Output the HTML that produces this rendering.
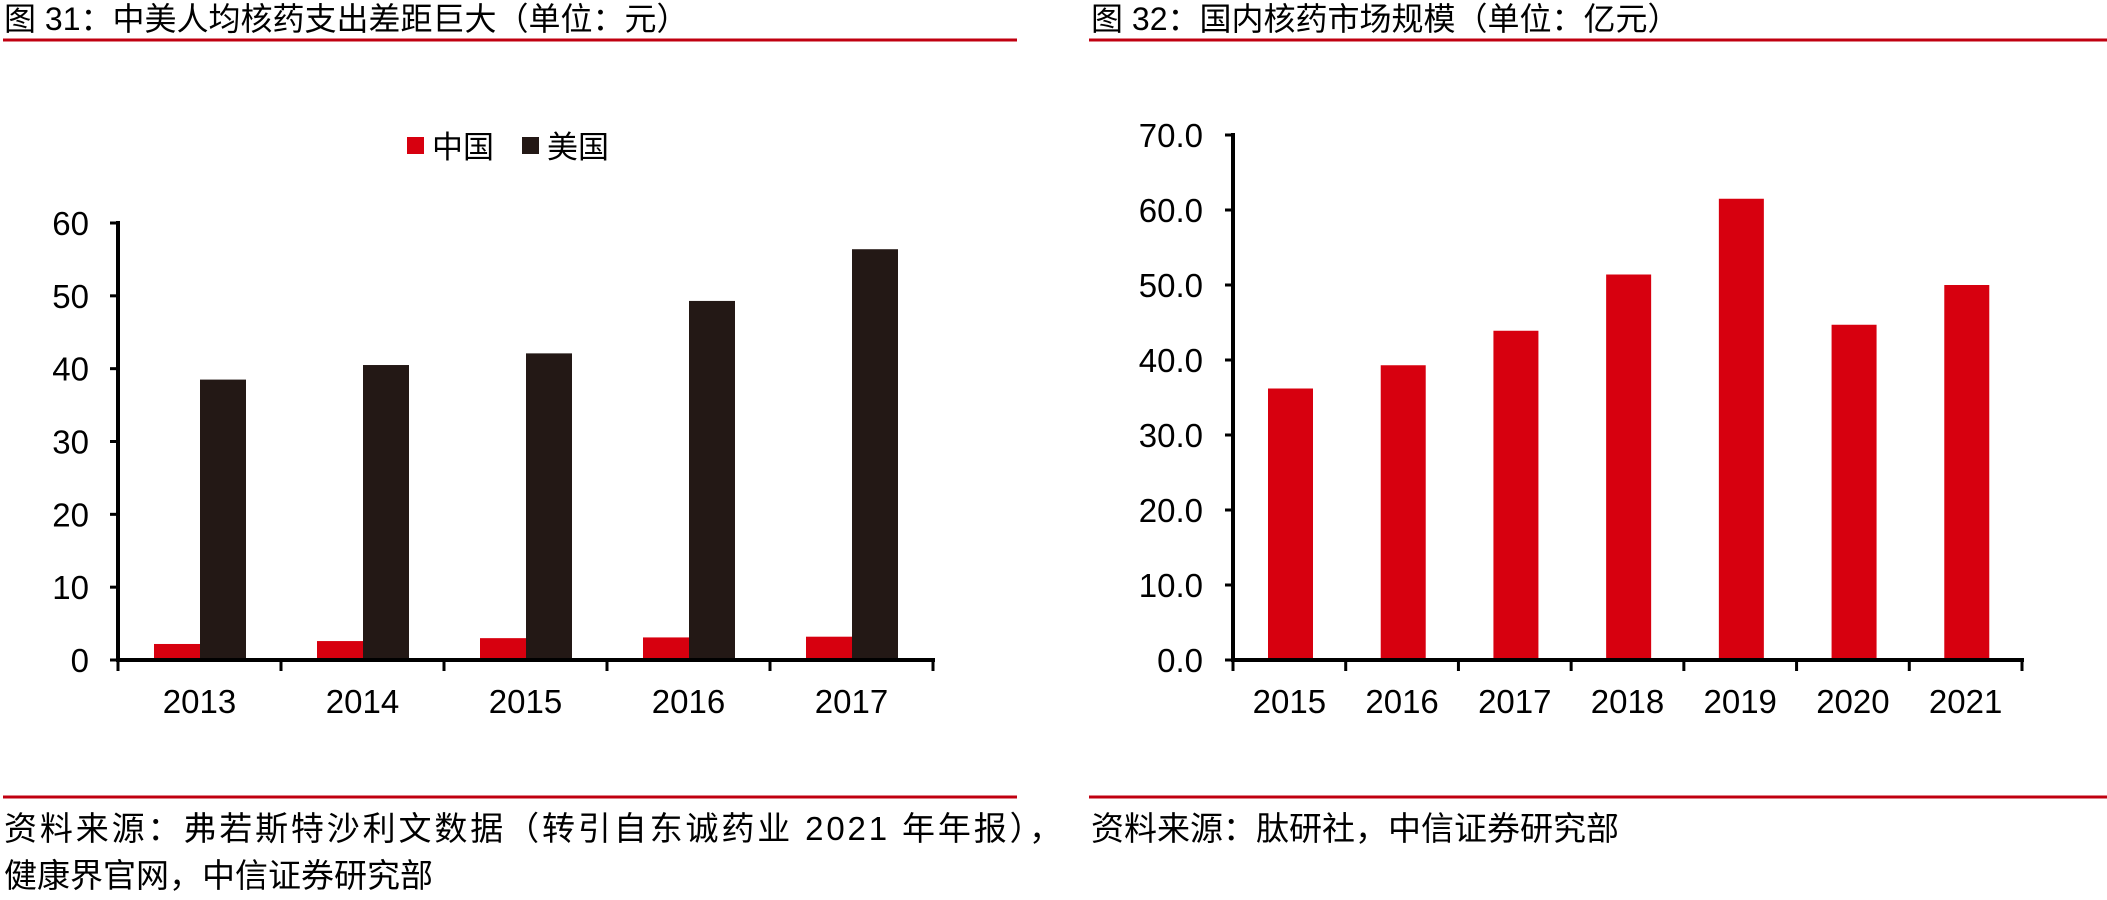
<!DOCTYPE html>
<html><head><meta charset="utf-8"><style>
body{margin:0;background:#fff;}
svg text{font-family:"Liberation Sans","Noto Sans CJK SC",sans-serif;}
</style></head><body>
<svg width="2107" height="895" viewBox="0 0 2107 895" xmlns="http://www.w3.org/2000/svg">
<g id="left"></g>
<g id="right"></g>
<text x="4" y="30" font-size="32" fill="#000">图 31：中美人均核药支出差距巨大（单位：元）</text>
<line x1="3" y1="40" x2="1017" y2="40" stroke="#c00010" stroke-width="3"/>
<text x="1091" y="30" font-size="32" fill="#000">图 32：国内核药市场规模（单位：亿元）</text>
<line x1="1089" y1="40" x2="2107" y2="40" stroke="#c00010" stroke-width="3"/>
<line x1="3" y1="797" x2="1017" y2="797" stroke="#c00010" stroke-width="3"/>
<line x1="1089" y1="797" x2="2107" y2="797" stroke="#c00010" stroke-width="3"/>
<text x="4" y="840" font-size="33" fill="#000" textLength="1058" lengthAdjust="spacing">资料来源：弗若斯特沙利文数据（转引自东诚药业 2021 年年报），</text>
<text x="4" y="887" font-size="33" fill="#000">健康界官网，中信证券研究部</text>
<text x="1091" y="840" font-size="33" fill="#000">资料来源：肽研社，中信证券研究部</text>
<rect x="407" y="137" width="17" height="17" fill="#d7000f"/>
<text x="432" y="158" font-size="31">中国</text>
<rect x="522" y="137" width="17" height="17" fill="#231815"/>
<text x="547" y="158" font-size="31">美国</text>
</svg>
<script>
const leftCats=["2013","2014","2015","2016","2017"];
const chinaVals=[2.2,2.6,3.0,3.1,3.2];
const usaVals=[38.5,40.5,42.1,49.3,56.4];
const leftTicks=[0,10,20,30,40,50,60];
const rightCats=["2015","2016","2017","2018","2019","2020","2021"];
const rightVals=[36.2,39.3,43.9,51.4,61.5,44.7,50.0];
const rightTicks=["0.0","10.0","20.0","30.0","40.0","50.0","60.0","70.0"];
const NS="http://www.w3.org/2000/svg";
function mk(p,t,a){const e=document.createElementNS(NS,t);for(const k in a)e.setAttribute(k,a[k]);p.appendChild(e);return e;}
function axes(g,x0,x1,y0,y1,max,ticks,cats,lx){
  const ys=v=>y0-(v/max)*(y0-y1);
  ticks.forEach(t=>{const y=ys(parseFloat(t));
    const l=mk(g,'line',{x1:x0-8,x2:x0,y1:y,y2:y,stroke:'#000','stroke-width':3});
    
    const tx=mk(g,'text',{x:lx,y:y+12,'font-size':33,'text-anchor':'end'});tx.textContent=t;
    });
  const cw=(x1-x0)/cats.length;
  cats.forEach((c,i)=>{const tx=mk(g,'text',{x:x0+cw*(i+0.5),y:713,'font-size':33,'text-anchor':'middle'});tx.textContent=c;
    });
  for(let i=0;i<=cats.length;i++){const l=mk(g,'line',{x1:x0+cw*i,x2:x0+cw*i,y1:y0,y2:y0+11,stroke:'#000','stroke-width':3});
    }
  return {ys,cw};
}
const L=document.getElementById('left');
const la=axes(L,118,933,660,223,60,leftTicks.map(String),leftCats,89);
leftCats.forEach((c,i)=>{
  const xs=118+la.cw*i+36;
  const r1=mk(L,'rect',{x:xs,y:la.ys(chinaVals[i]),width:46,height:660-la.ys(chinaVals[i]),fill:'#d7000f'});
  
  const r2=mk(L,'rect',{x:xs+46,y:la.ys(usaVals[i]),width:46,height:660-la.ys(usaVals[i]),fill:'#231815'});
  
});
let a1=mk(L,'line',{x1:118,x2:118,y1:221,y2:662,stroke:'#000','stroke-width':4});

let a2=mk(L,'line',{x1:116,x2:935,y1:660,y2:660,stroke:'#000','stroke-width':4});

const R=document.getElementById('right');
const ra=axes(R,1233,2022,660,135,70,rightTicks,rightCats,1203);
rightCats.forEach((c,i)=>{
  const xs=1233+ra.cw*i+35;
  const r=mk(R,'rect',{x:xs,y:ra.ys(rightVals[i]),width:45,height:660-ra.ys(rightVals[i]),fill:'#d7000f'});
  
});
let b1=mk(R,'line',{x1:1233,x2:1233,y1:133,y2:662,stroke:'#000','stroke-width':4});

let b2=mk(R,'line',{x1:1231,x2:2024,y1:660,y2:660,stroke:'#000','stroke-width':4});

</script>
</body></html>
